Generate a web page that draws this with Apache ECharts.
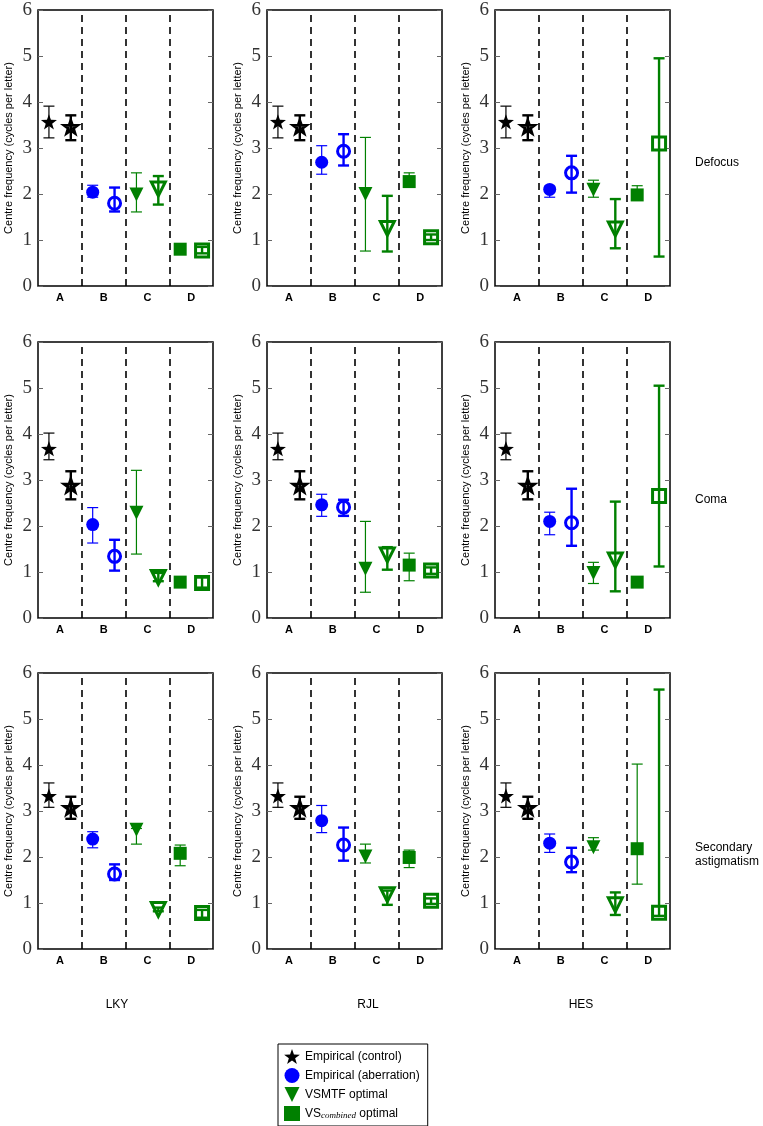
<!DOCTYPE html>
<html><head><meta charset="utf-8">
<script src="https://cdn.jsdelivr.net/npm/echarts@6/dist/echarts.min.js"></script>
<style>html,body{margin:0;padding:0;background:#fff}#c{width:763px;height:1126px}</style>
</head><body><div id="c"></div>
<script>
// ---------- data ----------
const groups = ['A', 'B', 'C', 'D'];
const subjects = ['LKY', 'RJL', 'HES'];
const aberrations = ['Defocus', 'Coma', 'Secondary\nastigmatism'];
const yTicks = [0, 1, 2, 3, 4, 5, 6];
const seriesNames = ['Empirical (control)', 'Empirical (aberration)', 'VSMTF optimal', 'VScombined optimal'];

// each entry: [value, errLow, errHigh]; order: A filled, A open, B filled, B open, C filled, C open, D filled, D open
const defocusLKY = [[3.57,3.22,3.91],[3.46,3.17,3.71],[2.04,1.93,2.19],[1.80,1.62,2.14],[1.99,1.61,2.46],[2.11,1.77,2.39],[0.80,0.74,0.85],[0.77,0.71,0.85]];
const defocusRJL = [[3.57,3.22,3.91],[3.46,3.17,3.71],[2.69,2.43,3.05],[2.93,2.62,3.30],[2.00,0.76,3.23],[1.25,0.75,1.96],[2.27,2.20,2.46],[1.06,1.00,1.12]];
const defocusHES = [[3.57,3.22,3.91],[3.46,3.17,3.71],[2.10,1.93,2.17],[2.46,2.03,2.83],[2.09,1.93,2.30],[1.24,0.82,1.89],[1.98,1.95,2.18],[3.10,0.64,4.95]];
const comaLKY = [[3.68,3.44,4.02],[2.88,2.58,3.19],[2.03,1.63,2.40],[1.34,1.03,1.70],[2.29,1.39,3.21],[0.88,0.80,0.98],[0.78,0.74,0.82],[0.76,0.66,0.88]];
const comaRJL = [[3.68,3.44,4.02],[2.88,2.58,3.19],[2.46,2.21,2.69],[2.41,2.22,2.57],[1.07,0.56,2.10],[1.37,1.05,1.54],[1.15,0.81,1.41],[1.03,0.96,1.10]];
const comaHES = [[3.68,3.44,4.02],[2.88,2.58,3.19],[2.10,1.81,2.30],[2.07,1.57,2.81],[0.98,0.75,1.21],[1.26,0.58,2.53],[0.78,0.74,0.82],[2.65,1.12,5.05]];
const astigLKY = [[3.33,3.08,3.61],[3.07,2.83,3.31],[2.39,2.20,2.55],[1.63,1.50,1.84],[2.59,2.28,2.62],[0.86,0.82,0.90],[2.08,1.81,2.26],[0.78,0.68,0.85]];
const astigRJL = [[3.33,3.08,3.61],[3.07,2.83,3.31],[2.79,2.53,3.12],[2.26,1.92,2.64],[2.01,1.87,2.28],[1.18,0.96,1.27],[1.99,1.77,2.15],[1.05,0.98,1.10]];
const astigHES = [[3.33,3.08,3.61],[3.07,2.83,3.31],[2.30,2.10,2.50],[1.89,1.67,2.20],[2.21,2.15,2.42],[0.96,0.74,1.23],[2.18,1.41,4.02],[0.79,0.72,5.64]];

const panels = [
  [defocusLKY, defocusRJL, defocusHES],
  [comaLKY, comaRJL, comaHES],
  [astigLKY, astigRJL, astigHES]
];

// ---------- styles ----------
const groupColors = ['#000000', '#0000ff', '#008000', '#008000'];
const STAR = 'path://M0,-10 L2.35,-3.24 L9.51,-3.09 L3.8,1.24 L5.88,8.09 L0,4 L-5.88,8.09 L-3.8,1.24 L-9.51,-3.09 L-2.35,-3.24 Z';
const DTRI = 'path://M0,0 L10,0 L5,10 Z';
const groupSymbols = [STAR, 'circle', DTRI, 'rect'];
const filledSize = [[16, 16], 13, [14, 14], 13];
const openSize = [[13, 13], 12, [14, 14], 13];
const openBorder = [3, 3, 3, 3];
const gridLefts = [38, 267, 495];
const gridTops = [10, 342, 673];
const labelY = [163, 500, 855];
const GW = 175, GH = 276;
const sans = 'Liberation Sans, Arial, sans-serif';
const serif = 'Liberation Serif, Times New Roman, serif';

const grid = [], xAxis = [], yAxis = [], series = [], graphic = [];
let gi = 0;
for (let r = 0; r < 3; r++) {
  for (let c = 0; c < 3; c++) {
    grid.push({left: gridLefts[c], top: gridTops[r], width: GW, height: GH,
      show: true, borderColor: '#000', borderWidth: 1.5, backgroundColor: 'transparent'});
    const xb = xAxis.length;
    xAxis.push({type: 'category', gridIndex: gi, data: groups, position: 'bottom', boundaryGap: true,
      axisLine: {show: false}, splitLine: {show: false},
      axisTick: {inside: true, alignWithLabel: true, length: 4, lineStyle: {color: '#666'}},
      axisLabel: {fontFamily: sans, fontWeight: 'bold', fontSize: 11, color: '#000', margin: 6}});
    xAxis.push({type: 'category', gridIndex: gi, data: groups, position: 'top', boundaryGap: true,
      axisLine: {show: false}, splitLine: {show: false},
      axisTick: {inside: true, alignWithLabel: true, length: 4, lineStyle: {color: '#666'}},
      axisLabel: {show: false}});
    xAxis.push({type: 'value', gridIndex: gi, min: 0, max: 4, show: false});
    const yb = yAxis.length;
    yAxis.push({type: 'value', gridIndex: gi, min: yTicks[0], max: yTicks[yTicks.length - 1], interval: 1,
      position: 'left', splitLine: {show: false}, axisLine: {show: false},
      axisTick: {show: true, inside: true, length: 5, lineStyle: {color: '#666'}},
      axisLabel: {fontFamily: serif, fontSize: 19, color: '#333', margin: 6},
      name: 'Centre frequency (cycles per letter)', nameLocation: 'middle', nameGap: 24,
      nameTextStyle: {fontFamily: sans, fontSize: 11, color: '#000'}});
    yAxis.push({type: 'value', gridIndex: gi, min: 0, max: 6, interval: 1, position: 'right',
      splitLine: {show: false}, axisLine: {show: false},
      axisTick: {show: true, inside: true, length: 5, lineStyle: {color: '#666'}},
      axisLabel: {show: false}});

    const pd = panels[r][c];
    // error bars
    const errData = pd.map((d, k) => [Math.floor(k / 2) + (k % 2 ? 0.75 : 0.25), d[1], d[2], k % 2]);
    series.push({type: 'custom', name: 'err', xAxisIndex: xb + 2, yAxisIndex: yb, z: 2, silent: true,
      data: errData,
      renderItem: (params, api) => {
        const x = api.value(0), lo = api.value(1), hi = api.value(2), open = api.value(3);
        const a = api.coord([x, lo]), b = api.coord([x, hi]);
        const col = groupColors[Math.floor(x)];
        const lw = open ? 2.4 : 1.2;
        const h = 5.5;
        const st = {stroke: col, lineWidth: lw};
        return {type: 'group', children: [
          {type: 'line', shape: {x1: a[0], y1: a[1], x2: b[0], y2: b[1]}, style: st},
          {type: 'line', shape: {x1: a[0] - h, y1: a[1], x2: a[0] + h, y2: a[1]}, style: st},
          {type: 'line', shape: {x1: b[0] - h, y1: b[1], x2: b[0] + h, y2: b[1]}, style: st}
        ]};
      }});
    // markers: one series per group
    for (let g = 0; g < 4; g++) {
      const col = groupColors[g];
      const f = pd[2 * g], o = pd[2 * g + 1];
      const s = {type: 'scatter', name: seriesNames[g], xAxisIndex: xb + 2, yAxisIndex: yb, z: 3,
        symbol: groupSymbols[g], symbolKeepAspect: true, symbolSize: filledSize[g],
        itemStyle: {color: col, opacity: 1}, emphasis: {disabled: true}, silent: true,
        data: [
          {value: [g + 0.25, f[0]]},
          {value: [g + 0.75, o[0]], symbolSize: openSize[g],
           itemStyle: {color: 'rgba(255,255,255,0)', borderColor: col, borderWidth: openBorder[g]}}
        ]};
      if (g === 0) {
        s.markLine = {silent: true, symbol: 'none', label: {show: false}, animation: false,
          lineStyle: {color: '#000', type: [7, 5], width: 1.6},
          data: [{xAxis: 1}, {xAxis: 2}, {xAxis: 3}]};
      }
      series.push(s);
    }
    gi++;
  }
}

// row labels (aberrations) and column labels (subjects)
aberrations.forEach((t, r) => {
  graphic.push({type: 'text', x: 695, y: labelY[r],
    style: {text: t, font: '12px ' + sans, fill: '#000', lineHeight: 14, align: 'left', verticalAlign: 'middle'}});
});
const subjX = [117, 368, 581];
subjects.forEach((t, c) => {
  graphic.push({type: 'text', x: subjX[c], y: 1005,
    style: {text: t, font: '12px ' + sans, fill: '#000', align: 'center', verticalAlign: 'middle'}});
});

const option = {
  animation: false,
  backgroundColor: '#fff',
  grid, xAxis, yAxis, series, graphic,
  legend: {
    data: seriesNames, orient: 'vertical', left: 278, top: 1044,
    borderColor: '#000', borderWidth: 1, padding: [5, 8, 5, 6],
    itemWidth: 16, itemHeight: 15, itemGap: 4, selectedMode: false,
    formatter: n => n === 'VScombined optimal' ? 'VS{sub|combined} optimal' : n,
    textStyle: {fontFamily: sans, fontSize: 12, color: '#000',
      rich: {sub: {fontFamily: serif, fontStyle: 'italic', fontSize: 9, color: '#000', padding: [5, 0, 0, 0]}}}
  }
};
const chart = echarts.init(document.getElementById('c'), null, {renderer: 'canvas'});
chart.setOption(option);
</script></body></html>
